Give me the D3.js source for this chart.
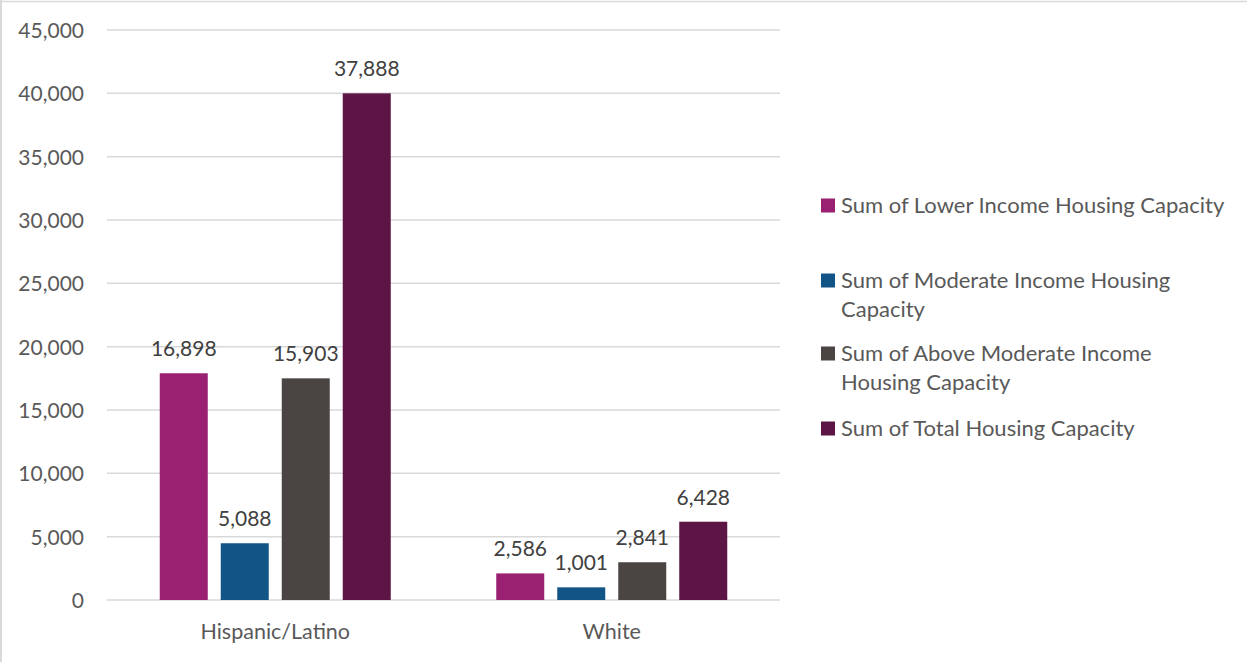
<!DOCTYPE html>
<html>
<head>
<meta charset="utf-8">
<script src="https://cdn.jsdelivr.net/npm/d3@7"></script>
<style>
  html, body { margin: 0; padding: 0; background: #fff; }
  svg { display: block; font-family: Lato, "Open Sans", sans-serif; }
</style>
</head>
<body>
<svg id="chart" width="1247" height="662"></svg>
<script>
// ---- data ----
const categories = ["Hispanic/Latino", "White"];
const seriesNames = [
  "Sum of Lower Income Housing Capacity",
  "Sum of Moderate Income Housing Capacity",
  "Sum of Above Moderate Income Housing Capacity",
  "Sum of Total Housing Capacity"
];
const legendLines = [
  ["Sum of Lower Income Housing Capacity"],
  ["Sum of Moderate Income Housing", "Capacity"],
  ["Sum of Above Moderate Income", "Housing Capacity"],
  ["Sum of Total Housing Capacity"]
];
const seriesColors = ["#9A2072", "#135487", "#4A4542", "#5C1545"];
// bar heights as drawn in the picture (per series, per category)
const lowerBars = [17900, 2100];
const moderateBars = [4480, 1000];
const aboveModerateBars = [17500, 2980];
const totalBars = [40000, 6180];
// data labels as printed in the picture
const lowerLabels = ["16,898", "2,586"];
const moderateLabels = ["5,088", "1,001"];
const aboveModerateLabels = ["15,903", "2,841"];
const totalLabels = ["37,888", "6,428"];
const yTicks = [0, 5000, 10000, 15000, 20000, 25000, 30000, 35000, 40000, 45000];

const barSeries = [lowerBars, moderateBars, aboveModerateBars, totalBars];
const labelSeries = [lowerLabels, moderateLabels, aboveModerateLabels, totalLabels];

// ---- layout ----
const svg = d3.select("#chart");
const plot = { left: 107, right: 780, top: 30, bottom: 600 };

const y = d3.scaleLinear().domain([0, 45000]).range([plot.bottom, plot.top]);
const x0 = d3.scaleBand().domain(categories).range([plot.left, plot.right]).padding(0);
const groupWidth = 231;
const x1 = d3.scaleBand().domain(d3.range(seriesNames.length))
  .range([0, groupWidth]).paddingInner(13 / 61).paddingOuter(0);
const groupStart = c => x0(c) + (x0.bandwidth() - groupWidth) / 2;

// chart frame (left & top edges visible)
svg.append("line").attr("x1", 1).attr("x2", 1).attr("y1", 0).attr("y2", 662)
  .attr("stroke", "#d9d9d9").attr("stroke-width", 2);
svg.append("line").attr("x1", 0).attr("x2", 1247).attr("y1", 1.5).attr("y2", 1.5)
  .attr("stroke", "#d9d9d9").attr("stroke-width", 1.5);

// gridlines
svg.append("g").selectAll("line").data(yTicks).join("line")
  .attr("x1", plot.left).attr("x2", plot.right)
  .attr("y1", d => y(d)).attr("y2", d => y(d))
  .attr("stroke", "#d9d9d9").attr("stroke-width", 1.5);

// y axis labels
const yAxis = d3.axisLeft(y).tickValues(yTicks).tickSize(0).tickPadding(0)
  .tickFormat(d3.format(","));
const yg = svg.append("g").attr("transform", `translate(84,0)`).call(yAxis);
yg.select(".domain").remove();
yg.selectAll("text").attr("fill", "#595959").style("font-size", "21px")
  .style("font-family", "Lato, 'Open Sans', sans-serif").attr("dy", "0.35em");

// bars
const groups = svg.append("g").selectAll("g").data(categories).join("g")
  .attr("transform", c => `translate(${groupStart(c)},0)`);

groups.each(function(c, ci) {
  const g = d3.select(this);
  const items = barSeries.map((vals, si) => ({ si, v: vals[ci], label: labelSeries[si][ci] }));
  g.selectAll("rect").data(items).join("rect")
    .attr("x", d => x1(d.si)).attr("width", x1.bandwidth())
    .attr("y", d => y(d.v)).attr("height", d => y(0) - y(d.v))
    .attr("fill", d => seriesColors[d.si]);
  g.selectAll("text").data(items).join("text")
    .attr("x", d => x1(d.si) + x1.bandwidth() / 2)
    .attr("y", d => y(d.v) - 17)
    .attr("text-anchor", "middle")
    .attr("fill", "#404040").style("font-size", "21px")
    .text(d => d.label);
});

// x axis category labels
const xAxis = d3.axisBottom(x0).tickSize(0).tickPadding(0);
const xg = svg.append("g").attr("transform", `translate(0,${plot.bottom})`).call(xAxis);
xg.select(".domain").remove();
xg.selectAll("text").attr("fill", "#595959").style("font-size", "21.5px")
  .style("font-family", "Lato, 'Open Sans', sans-serif").attr("dy", null).attr("y", 39);

// legend
const legendRowY = [205, 280, 353, 428];
const lineH = 29.5;
const leg = svg.append("g").selectAll("g").data(seriesNames).join("g")
  .attr("transform", (d, i) => `translate(821,${legendRowY[i]})`);
leg.append("rect").attr("x", 0).attr("y", -6.5).attr("width", 14).attr("height", 14)
  .attr("fill", (d, i) => seriesColors[i]);
leg.each(function(d, i) {
  const t = d3.select(this).append("text").attr("x", 20).attr("y", 0)
    .attr("fill", "#595959").style("font-size", "22px");
  legendLines[i].forEach((ln, k) => {
    t.append("tspan").attr("x", 20).attr("dy", k === 0 ? "0.35em" : lineH).text(ln);
  });
});
</script>
</body>
</html>
